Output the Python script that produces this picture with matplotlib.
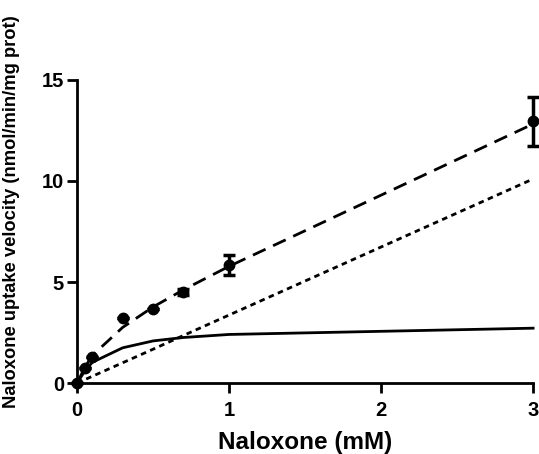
import matplotlib
matplotlib.use('Agg')
import matplotlib.pyplot as plt

plt.rcParams['font.family'] = ['Liberation Sans', 'DejaVu Sans']
plt.rcParams['font.weight'] = 'bold'

# naloxone concentrations (mM)
conc = [0, 0.05, 0.1, 0.3, 0.5, 0.7, 1, 3]
# measured uptake velocity and sem
uptake = [0, 0.73, 1.3, 3.2, 3.65, 4.5, 5.85, 12.95]
sem = [0, 0, 0, 0, 0, 0.15, 0.5, 1.2]

# fitted components
total_fit = [0, 0.77, 1.37, 2.76, 3.77, 4.62, 5.78, 12.82]
saturable = [0, 0.6, 1.03, 1.75, 2.09, 2.26, 2.41, 2.72]
linear = [0, 0.17, 0.34, 1.01, 1.68, 2.36, 3.37, 10.1]

fig = plt.figure(figsize=(5.39, 4.54), dpi=100)
ax = fig.add_axes([0.143, 0.156, 0.846, 0.668])

ax.plot(conc, total_fit, color='black', lw=2, dashes=(5, 3), clip_on=False)
ax.plot(conc, saturable, color='black', lw=2, clip_on=False)
ax.plot(conc, linear, color='black', lw=2, dashes=(2, 1.6), clip_on=False)

# error bars only visible where bigger than the marker
ax.errorbar(conc, uptake, yerr=sem, fmt='o', color='black', ms=7.5,
            ecolor='black', elinewidth=2.5, capsize=4, capthick=2.5,
            clip_on=False, zorder=5)

ax.set_xlim(0, 3)
ax.set_ylim(0, 15)
ax.set_xticks([0, 1, 2, 3])
ax.set_yticks([0, 5, 10, 15])

for s in ['top', 'right']:
    ax.spines[s].set_visible(False)
for s in ['left', 'bottom']:
    ax.spines[s].set_linewidth(2)
ax.tick_params(width=2, length=7, labelsize=14.5, direction='out')
ax.tick_params(axis='x', pad=6)
ax.tick_params(axis='y', pad=2.5)
for lab in ax.get_xticklabels() + ax.get_yticklabels():
    lab.set_fontweight('bold')

ax.set_xlabel('Naloxone (mM)', fontsize=17.5, fontweight='bold', labelpad=8)
fig.text(0.021, 0.534, 'Naloxone uptake velocity (nmol/min/mg prot)',
         rotation=90, fontsize=13.2, fontweight='bold', ha='center', va='center')

fig.savefig('out.png', dpi=100)
